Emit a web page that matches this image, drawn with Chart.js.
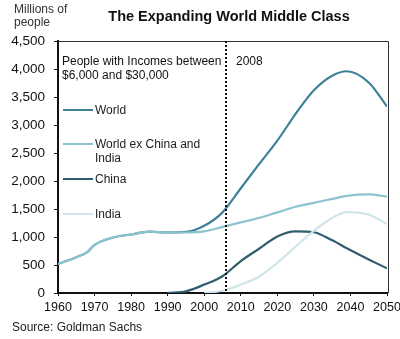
<!DOCTYPE html>
<html>
<head>
<meta charset="utf-8">
<script src="https://cdn.jsdelivr.net/npm/chart.js@4/dist/chart.umd.min.js"></script>
<style>
html,body{margin:0;padding:0;background:#fff;}
#wrap{position:relative;width:400px;height:339px;}
</style>
</head>
<body>
<div id="wrap"><canvas id="c" width="400" height="339"></canvas></div>
<script>
const years   = [1960,1965,1968,1970,1975,1980,1985,1990,1995,2000,2005,2010,2015,2020,2025,2030,2035,2039,2045,2050];
const world   = [520,640,730,860,990,1045,1095,1080,1090,1200,1440,1870,2300,2720,3200,3620,3880,3960,3760,3330];
const worldEx = [520,640,730,860,990,1045,1095,1080,1080,1100,1180,1260,1340,1440,1540,1610,1680,1735,1760,1720];
const china   = [null,null,null,null,null,null,null,0,30,150,300,570,790,1010,1100,1085,940,800,600,440];
const india   = [null,null,null,null,null,null,null,null,null,0,40,150,290,540,830,1110,1340,1445,1400,1230];
const yTicks = [0,500,1000,1500,2000,2500,3000,3500,4000,4500];
const markerYear = 2006;
const legendNames = [['World'],['World ex China and','India'],['China'],['India']];
const colors = ['#3f8197','#8cc3d0','#2e5e6c','#cfe5ea'];
const FONT = 'Liberation Sans, Arial, sans-serif';

function pts(arr){ return years.map((y,i)=>({x:y,y:arr[i]})).filter(p=>p.y!==null); }

const deco = {
  id:'deco',
  afterDatasetsDraw(chart){
    const ctx=chart.ctx, a=chart.chartArea, xs=chart.scales.x;
    ctx.save();
    // frame top + right
    ctx.strokeStyle='#333'; ctx.lineWidth=1;
    ctx.beginPath(); ctx.moveTo(a.left,a.top+0.5); ctx.lineTo(a.right+1.5,a.top+0.5); ctx.lineTo(a.right+1.5,a.bottom); ctx.stroke();
    // dotted 2008 line
    const mx=Math.round(xs.getPixelForValue(markerYear));
    ctx.strokeStyle='#111'; ctx.lineWidth=2; ctx.setLineDash([2,2]);
    ctx.beginPath(); ctx.moveTo(mx,a.top); ctx.lineTo(mx,a.bottom); ctx.stroke();
    ctx.setLineDash([]);
    ctx.fillStyle='#111'; ctx.font='12px '+FONT; ctx.textBaseline='middle';
    ctx.fillText('2008',mx+10,a.top+21);
    ctx.fillText('People with Incomes between',a.left+4,a.top+21);
    ctx.fillText('$6,000 and $30,000',a.left+4,a.top+35);
    // legend
    const ly=[a.top+69,a.top+103,a.top+138,a.top+173];
    legendNames.forEach((n,i)=>{
      ctx.strokeStyle=colors[i]; ctx.lineWidth=2;
      ctx.beginPath(); ctx.moveTo(a.left+5,ly[i]); ctx.lineTo(a.left+35,ly[i]); ctx.stroke();
      ctx.fillStyle='#222';
      n.forEach((t,k)=>ctx.fillText(t,a.left+37,ly[i]+1+k*14));
    });
    // title and captions
    ctx.fillStyle='#111'; ctx.font='bold 14.5px '+FONT; ctx.textAlign='center';
    ctx.fillText('The Expanding World Middle Class',229,17);
    ctx.textAlign='left'; ctx.font='12px '+FONT; ctx.fillStyle='#333';
    ctx.fillText('Millions of',14,10); ctx.fillText('people',14,23);
    ctx.fillStyle='#222';
    ctx.fillText('Source: Goldman Sachs',12,328);
    ctx.restore();
  }
};

new Chart(document.getElementById('c'),{
  type:'line',
  data:{datasets:[
    {label:'World ex China and India',data:pts(worldEx),borderColor:colors[1]},
    {label:'India',data:pts(india),borderColor:colors[3]},
    {label:'China',data:pts(china),borderColor:colors[2]},
    {label:'World',data:pts(world),borderColor:colors[0]}
  ].map(d=>Object.assign(d,{borderWidth:2.2,pointRadius:0,tension:0.4,cubicInterpolationMode:'monotone',fill:false}))},
  plugins:[deco],
  options:{
    responsive:false, animation:false,
    layout:{padding:{top:41,right:13,left:0,bottom:0}},
    plugins:{legend:{display:false},tooltip:{enabled:false}},
    scales:{
      x:{type:'linear',min:1960,max:2050,
        afterFit:s=>{s.height=46; s.paddingRight=0; s.paddingLeft=0;},
        border:{color:'#111',width:2},
        grid:{drawOnChartArea:false,tickLength:3,color:'#111'},
        ticks:{stepSize:10,callback:v=>String(v),color:'#111',font:{family:FONT,size:12.5},maxRotation:0,padding:4}},
      y:{min:0,max:4500,
        afterFit:s=>{s.width=58;},
        afterBuildTicks:s=>{s.ticks=yTicks.map(v=>({value:v}));},
        border:{color:'#111',width:2},
        grid:{drawOnChartArea:false,tickLength:4,color:'#111'},
        ticks:{callback:v=>v.toLocaleString('en-US'),color:'#111',font:{family:FONT,size:13.5},padding:9}}
    }
  }
});
</script>
</body>
</html>
